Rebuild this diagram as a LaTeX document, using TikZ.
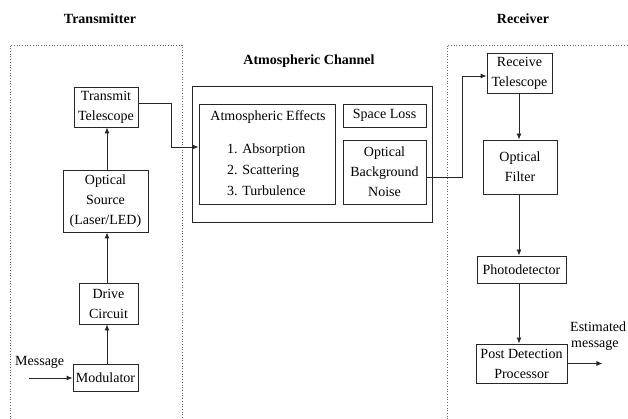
\documentclass[tikz,border=0pt]{standalone}
\usepackage{fontspec}
\setmainfont{Liberation Serif}
\usetikzlibrary{arrows.meta,calc}
\tikzset{
  blk/.style={draw=black!85, line width=0.9pt, inner sep=0pt, align=center, font=\fontsize{14}{20}\selectfont},
  arr/.style={draw=black!85, line width=0.9pt, -{Latex[length=6pt,width=5pt]}},
  lbl/.style={inner sep=0pt, font=\fontsize{14}{20}\selectfont},
  ttl/.style={inner sep=0pt, font=\fontsize{14}{20}\selectfont\bfseries},
  region/.style={draw=black!60, dotted, line width=0.7pt}
}
\begin{document}
\begin{tikzpicture}[x=1pt,y=-1pt]
\useasboundingbox (0,0) rectangle (628,419);
% regions
\draw[region] (10,419) -- (10,45) -- (182,45) -- (182,419);
\draw[region] (447,419) -- (447,45) -- (630,45);
% titles
\node[ttl, anchor=base] (ttx) at (100,24) {Transmitter};
\node[ttl, anchor=base] (trx) at (523,24) {Receiver};
\node[ttl, anchor=base] (tch) at (309,65) {Atmospheric Channel};
% transmitter
\coordinate (tx) at (107,0);
\node[blk, minimum width=64pt, minimum height=40pt] (tt) at (106,107) {Transmit\\Telescope};
\node[blk, minimum width=85pt, minimum height=62pt] (os) at (105.5,201) {Optical\\Source\\(Laser/LED)};
\node[blk, minimum width=59pt, minimum height=41pt] (dc) at (108.5,303.5) {Drive\\Circuit};
\node[blk, minimum width=65pt, minimum height=27pt] (mod) at (105.5,377.5) {Modulator};
\node[lbl, anchor=base west] (msgt) at (15,365) {Message};
\coordinate (msg) at (29,378);
\draw[arr] (msg) -- (mod.west |- msg);
\draw[arr] (mod.north -| tx) -- (dc.south -| tx);
\draw[arr] (dc.north -| tx) -- (os.south -| tx);
\draw[arr] (os.north -| tx) -- (tt.south -| tx);
% channel
\node[blk, minimum width=240pt, minimum height=136pt] (ch) at (312,154) {};
\node[blk, minimum width=136pt, minimum height=100pt] (ae) at (267,154) {};
\node[lbl, anchor=base] (aet) at (268,121) {Atmospheric Effects};
\node[lbl, anchor=base west] (l1) at (227,154) {1. Absorption};
\node[lbl, anchor=base west] (l2) at (227,175) {2. Scattering};
\node[lbl, anchor=base west] (l3) at (227,196) {3. Turbulence};
\node[blk, minimum width=83pt, minimum height=23pt] (sl) at (384.5,115.5) {Space Loss};
\node[blk, minimum width=83pt, minimum height=64pt] (obn) at (384.5,172) {Optical\\Background\\Noise};
\draw[arr] ([yshift=4pt]tt.east) -- ++(33,0) |- ([yshift=7pt]ae.west);
% receiver
\coordinate (rx) at (519,0);
\node[blk, minimum width=65pt, minimum height=40pt] (rt) at (519.5,73) {Receive\\Telescope};
\node[blk, minimum width=74pt, minimum height=54pt] (of) at (520,167) {Optical\\Filter};
\node[blk, minimum width=89pt, minimum height=27pt] (pd) at (521.5,269.5) {Photodetector};
\node[blk, minimum width=91pt, minimum height=39pt] (pdp) at (521.5,363.5) {Post Detection\\Processor};
\draw[arr] ([yshift=-5pt]obn.east) -- ++(36,0) |- ([yshift=-3pt]rt.west);
\draw[arr] (rt.south -| rx) -- (of.north -| rx);
\draw[arr] (of.south -| rx) -- (pd.north -| rx);
\draw[arr] (pd.south -| rx) -- (pdp.north -| rx);
\draw[arr] (pdp.east) -- ++(35,0);
\node[lbl, anchor=base west] (em1) at (570,331) {Estimated};
\node[lbl, anchor=base west] (em2) at (571,347) {message};
\end{tikzpicture}
\end{document}
